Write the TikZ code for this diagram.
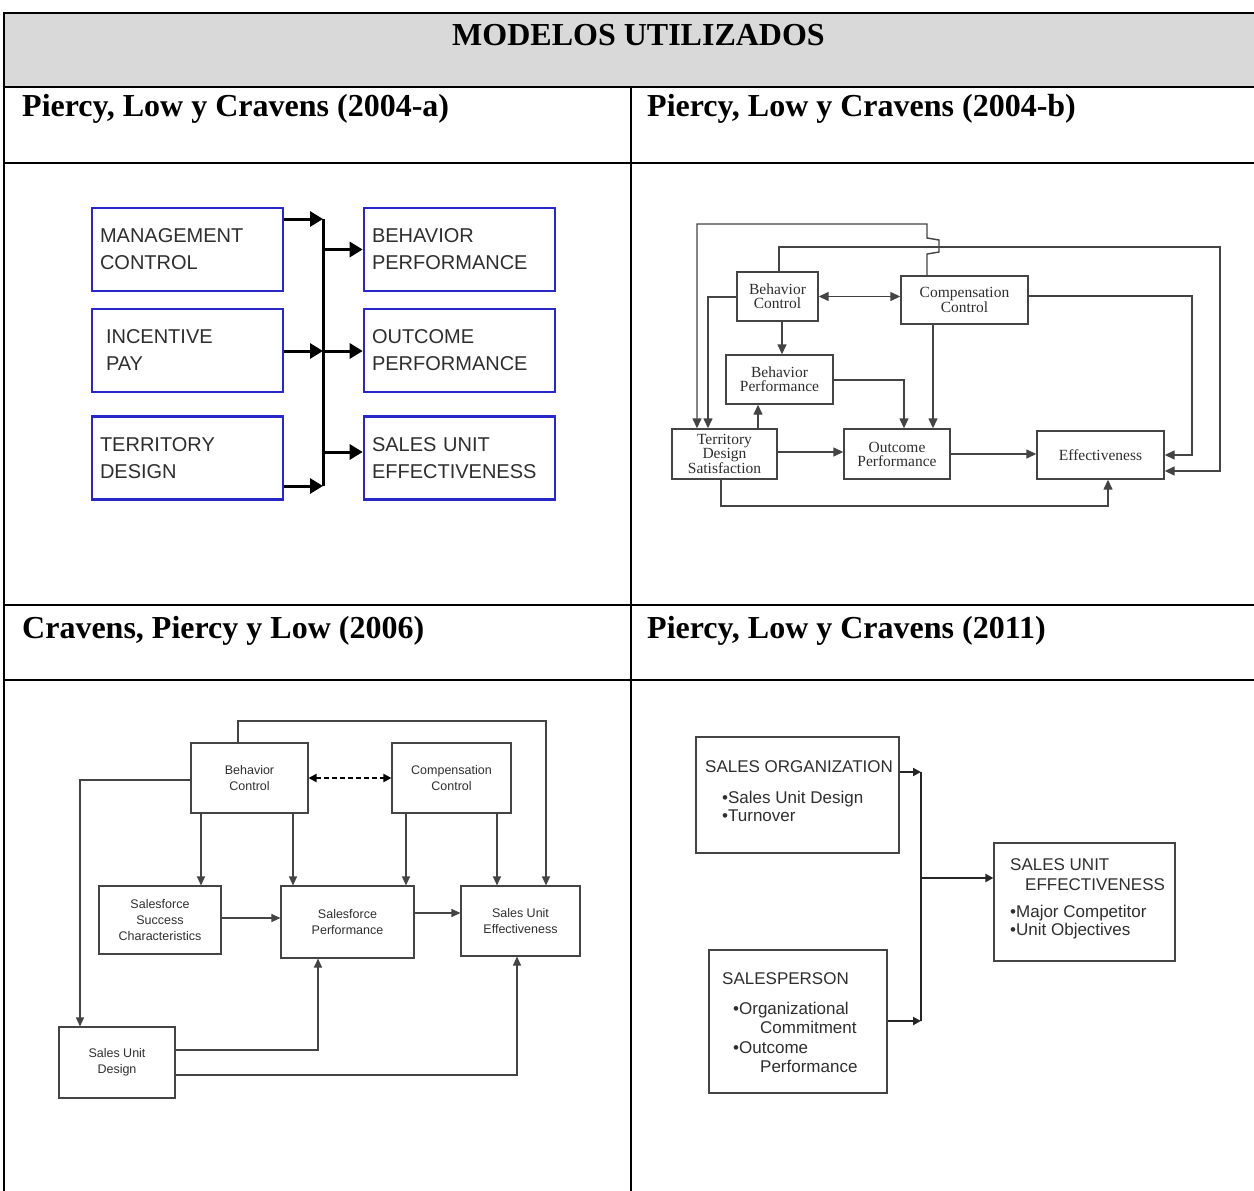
\documentclass[tikz,border=0pt]{standalone}
\usepackage{fontspec}
\setmainfont{Liberation Serif}
\setsansfont{Liberation Sans}
\usetikzlibrary{arrows.meta}
\definecolor{hdrgray}{HTML}{D9D9D9}
\definecolor{boxblue}{HTML}{2828C8}
\definecolor{lineg}{HTML}{444444}
\definecolor{txtg}{HTML}{2E2E2E}
\tikzset{
  tblthick/.style={line width=2.4pt},
  tblthin/.style={line width=1.2pt},
  title/.style={font=\bfseries\fontsize{32}{36}\selectfont, inner sep=0pt},
  boxa/.style={draw=boxblue, line width=2.6pt, minimum width=191pt, minimum height=83pt,
    inner xsep=8pt, text width=175pt, align=left, text=txtg,
    font=\sffamily\fontsize{20}{27}\selectfont},
  arra/.style={line width=3pt, -{Triangle[length=13pt,width=15pt]}},
  busa/.style={line width=3pt},
  boxb/.style={draw=lineg, line width=1.4pt, inner sep=0pt, align=center, text=txtg,
    font=\fontsize{15.5}{14}\selectfont},
  arrb/.style={draw=lineg, line width=1.4pt, -{Triangle[length=10pt,width=9pt]}},
  dblb/.style={draw=lineg, line width=1.4pt, {Triangle[length=10pt,width=9pt]}-{Triangle[length=10pt,width=9pt]}},
  boxc/.style={draw=lineg, line width=1.1pt, inner sep=0pt, align=center, text=txtg,
    font=\sffamily\fontsize{12.5}{16}\selectfont},
  arrc/.style={draw=lineg, line width=1.1pt, -{Triangle[length=9pt,width=8pt]}},
  dashc/.style={draw=black, line width=2pt, dash pattern=on 5pt off 3pt,
    {Triangle[length=8pt,width=8pt]}-{Triangle[length=8pt,width=8pt]}},
  boxd/.style={draw=lineg, line width=1.2pt, inner sep=0pt},
  txtd/.style={inner sep=0pt, anchor=west, align=left, text=txtg,
    font=\sffamily\fontsize{17}{19.5}\selectfont},
  arrd/.style={draw=black!85, line width=2.5pt, -{Triangle[length=8pt,width=8pt]}},
  busd/.style={draw=black!85, line width=2.5pt},
}
\begin{document}
\begin{tikzpicture}[x=1pt,y=-1pt]
\useasboundingbox (0,0) rectangle (1254,1191);

% ---------------- table ----------------
\fill[hdrgray] (4,13) rectangle (1254,87);
\draw[tblthick] (3,13) -- (1254,13);
\draw[tblthick] (3,87) -- (1254,87);
\draw[tblthick] (3,163) -- (1254,163);
\draw[tblthick] (3,605) -- (1254,605);
\draw[tblthick] (3,680) -- (1254,680);
\draw[tblthin] (4,13) -- (4,1191);
\draw[tblthin] (631,87) -- (631,1191);

\node[title] (hdr) at (638.5,35) {MODELOS UTILIZADOS};
\node[title, anchor=west] (t1) at (22,109) {Piercy, Low y Cravens (2004-a)};
\node[title, anchor=west] (t2) at (647,109) {Piercy, Low y Cravens (2004-b)};
\node[title, anchor=west] (t3) at (22,631) {Cravens, Piercy y Low (2006)};
\node[title, anchor=west] (t4) at (647,631) {Piercy, Low y Cravens (2011)};

% ---------------- 2004-a ----------------
\node[boxa] (a1) at (187.5,249.5) {MANAGEMENT\\CONTROL};
\node[boxa] (a2) at (187.5,350.5) {\hspace*{6pt}INCENTIVE\\\hspace*{6pt}PAY};
\node[boxa] (a3) at (187.5,458) {TERRITORY\\DESIGN};
\node[boxa] (a4) at (459.5,249.5) {BEHAVIOR\\PERFORMANCE};
\node[boxa] (a5) at (459.5,350.5) {OUTCOME\\PERFORMANCE};
\node[boxa] (a6) at (459.5,458) {SALES UNIT\\EFFECTIVENESS};
\coordinate (ab1) at (323,219);
\coordinate (abm) at (323,351);
\coordinate (ab2) at (323,486);
\coordinate (ab3) at (323,452);
\draw[busa] (ab1) -- (ab2);
\draw[arra] (a1.east |- ab1) -- (ab1);
\draw[arra] (a2.east |- abm) -- (abm);
\draw[arra] (a3.east |- ab2) -- (ab2);
\draw[arra] (ab1 |- a4.west) -- (a4.west);
\draw[arra] (abm) -- (a5.west |- abm);
\draw[arra] (ab3) -- (a6.west |- ab3);

% ---------------- 2004-b ----------------
\node[boxb, minimum width=81pt, minimum height=49pt] (bc) at (777.5,296.5) {Behavior\\Control};
\node[boxb, minimum width=127pt, minimum height=48pt] (cc) at (964.5,300) {Compensation\\Control};
\node[boxb, minimum width=107pt, minimum height=49pt] (bp) at (779.5,379.5) {Behavior\\Performance};
\node[boxb, minimum width=105pt, minimum height=50pt] (td) at (724.5,454) {Territory\\Design\\Satisfaction};
\node[boxb, minimum width=106pt, minimum height=50pt] (op) at (897,454) {Outcome\\Performance};
\node[boxb, minimum width=127pt, minimum height=48pt] (ef) at (1100.5,455) {Effectiveness};

\coordinate (h1) at (927,224);
\coordinate (h2) at (697,224);
\draw[arrb] (h1 |- cc.north) -- (927,254) -- (939,252) -- (939,240) -- (927,238) -- (h1) -- (h2) -- (h2 |- td.north);
\coordinate (h3) at (779,247);
\coordinate (h4) at (1220,247);
\coordinate (h5) at (1220,471);
\draw[arrb] (h3 |- bc.north) -- (h3) -- (h4) -- (h5) -- (ef.east |- h5);
\coordinate (h6) at (1192,296);
\coordinate (h7) at (1192,455);
\draw[arrb] (cc.east |- h6) -- (h6) -- (h7) -- (ef.east |- h7);
\draw[dblb] (bc.east) -- (cc.west |- bc.east);
\coordinate (h8) at (708,297);
\draw[arrb] (bc.west |- h8) -- (h8) -- (h8 |- td.north);
\coordinate (h9) at (782,330);
\draw[arrb] (h9 |- bc.south) -- (h9 |- bp.north);
\coordinate (h10) at (904,380);
\draw[arrb] (bp.east |- h10) -- (h10) -- (h10 |- op.north);
\coordinate (h11) at (933,380);
\draw[arrb] (h11 |- cc.south) -- (h11 |- op.north);
\coordinate (h12) at (758,420);
\draw[arrb] (h12 |- td.north) -- (h12 |- bp.south);
\coordinate (h13) at (800,452);
\draw[arrb] (td.east |- h13) -- (op.west |- h13);
\draw[arrb] (op.east) -- (ef.west |- op.east);
\coordinate (h14) at (721,506);
\coordinate (h15) at (1108,506);
\draw[arrb] (h14 |- td.south) -- (h14) -- (h15) -- (h15 |- ef.south);

% ---------------- 2006 ----------------
\node[boxc, minimum width=117pt, minimum height=70pt] (cbc) at (249.5,778) {Behavior\\Control};
\node[boxc, minimum width=119pt, minimum height=70pt] (ccc) at (451.5,778) {Compensation\\Control};
\node[boxc, minimum width=122pt, minimum height=68pt] (cssc) at (160,920) {Salesforce\\Success\\Characteristics};
\node[boxc, minimum width=133pt, minimum height=72pt] (csp) at (347.5,922) {Salesforce\\Performance};
\node[boxc, minimum width=119pt, minimum height=70pt] (csue) at (520.5,921) {Sales Unit\\Effectiveness};
\node[boxc, minimum width=116pt, minimum height=71pt] (csud) at (117,1062.5) {Sales Unit\\Design};

\coordinate (k1) at (238,721);
\coordinate (k2) at (546,721);
\draw[arrc] (k1 |- cbc.north) -- (k1) -- (k2) -- (k2 |- csue.north);
\draw[dashc] (cbc.east) -- (ccc.west);
\coordinate (k4) at (80,780);
\draw[arrc] (cbc.west |- k4) -- (k4) -- (k4 |- csud.north);
\coordinate (k5) at (201,850);
\draw[arrc] (k5 |- cbc.south) -- (k5 |- cssc.north);
\coordinate (k6) at (293,850);
\draw[arrc] (k6 |- cbc.south) -- (k6 |- csp.north);
\coordinate (k7) at (406,850);
\draw[arrc] (k7 |- ccc.south) -- (k7 |- csp.north);
\coordinate (k8) at (497,850);
\draw[arrc] (k8 |- ccc.south) -- (k8 |- csue.north);
\coordinate (k9) at (250,918);
\draw[arrc] (cssc.east |- k9) -- (csp.west |- k9);
\coordinate (k10) at (440,913);
\draw[arrc] (csp.east |- k10) -- (csue.west |- k10);
\coordinate (k11) at (318,1050);
\draw[arrc] (csud.east |- k11) -- (k11) -- (k11 |- csp.south);
\coordinate (k12) at (517,1075);
\draw[arrc] (csud.east |- k12) -- (k12) -- (k12 |- csue.south);

% ---------------- 2011 ----------------
\node[boxd, minimum width=203pt, minimum height=116pt] (dso) at (797.5,795) {};
\node[boxd, minimum width=181pt, minimum height=118pt] (dsue) at (1084.5,902) {};
\node[boxd, minimum width=178pt, minimum height=143pt] (dsp) at (798,1021.5) {};

\node[txtd] (s1) at (705,767) {SALES ORGANIZATION};
\node[txtd, font=\sffamily\fontsize{17}{18}\selectfont] (s2) at (722,806) {•Sales Unit Design\\•Turnover};
\node[txtd] (s3) at (1010,865) {SALES UNIT};
\node[txtd] (s4) at (1025,885) {EFFECTIVENESS};
\node[txtd, font=\sffamily\fontsize{17}{18}\selectfont] (s5) at (1010,922) {•Major Competitor\\•Unit Objectives};
\node[txtd] (s6) at (722,979) {SALESPERSON};
\node[txtd] (s7) at (733,1037.5) {•Organizational\\\hspace*{27pt}Commitment\\•Outcome\\\hspace*{27pt}Performance};

\coordinate (d1) at (921,772);
\coordinate (d2) at (921,1021);
\coordinate (d3) at (921,878);
\draw[busd] (d1) -- (d2);
\draw[arrd] (dso.east |- d1) -- (d1);
\draw[arrd] (dsp.east |- d2) -- (d2);
\draw[arrd] (d3) -- (dsue.west |- d3);
\end{tikzpicture}
\end{document}
